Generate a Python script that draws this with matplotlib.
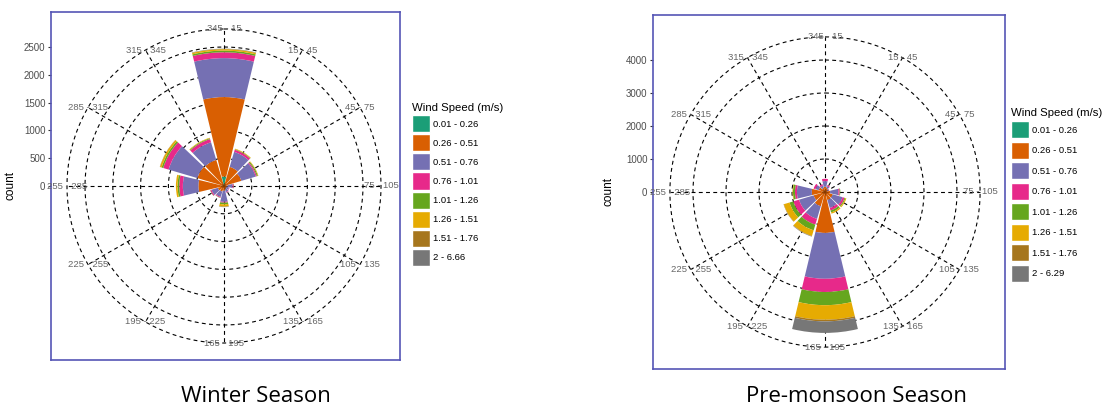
import numpy as np
import matplotlib.pyplot as plt
from matplotlib.patches import Patch

W, H = 1110, 408

# sector centres (deg, clockwise from north) and their labels
directions = [0, 30, 60, 90, 120, 150, 180, 210, 240, 270, 300, 330]
dir_labels = ['345 - 15', '15 - 45', '45 - 75', '75 - 105', '105 - 135', '135 - 165',
              '165 - 195', '195 - 225', '225 - 255', '255 - 285', '285 - 315', '315 - 345']

colors = ['#1B9E77', '#D95F02', '#7570B3', '#E7298A', '#66A61E', '#E6AB02', '#A6761D', '#777777']
winter_bins = ['0.01 - 0.26', '0.26 - 0.51', '0.51 - 0.76', '0.76 - 1.01',
               '1.01 - 1.26', '1.26 - 1.51', '1.51 - 1.76', '2 - 6.66']
premon_bins = ['0.01 - 0.26', '0.26 - 0.51', '0.51 - 0.76', '0.76 - 1.01',
               '1.01 - 1.26', '1.26 - 1.51', '1.51 - 1.76', '2 - 6.29']

# counts per speed bin, one value per sector (order of `directions`)
w_s1 = [170, 10, 5, 5, 5, 5, 5, 5, 5, 10, 10, 10]
w_s2 = [1430, 350, 320, 60, 40, 50, 80, 100, 110, 450, 490, 480]
w_s3 = [700, 280, 270, 90, 50, 60, 200, 100, 120, 280, 540, 330]
w_s4 = [105, 40, 20, 20, 10, 10, 15, 15, 20, 65, 100, 60]
w_s5 = [30, 10, 20, 5, 0, 0, 30, 5, 5, 30, 30, 15]
w_s6 = [25, 10, 10, 0, 0, 0, 40, 0, 0, 30, 30, 10]
w_s7 = [5, 0, 0, 0, 0, 0, 5, 0, 0, 0, 5, 0]
w_s8 = [5, 0, 0, 0, 0, 0, 5, 0, 0, 0, 0, 0]

p_s1 = [10, 5, 5, 5, 5, 5, 10, 5, 5, 5, 5, 5]
p_s2 = [150, 120, 80, 150, 240, 250, 1230, 445, 355, 395, 195, 120]
p_s3 = [170, 60, 40, 250, 310, 250, 1390, 400, 460, 450, 100, 80]
p_s4 = [70, 30, 10, 40, 60, 80, 400, 180, 180, 60, 60, 40]
p_s5 = [0, 0, 0, 20, 30, 60, 400, 180, 120, 60, 0, 0]
p_s6 = [0, 0, 0, 0, 30, 40, 440, 180, 180, 15, 0, 0]
p_s7 = [0, 0, 0, 0, 0, 0, 50, 10, 10, 0, 0, 0]
p_s8 = [0, 0, 0, 0, 0, 0, 350, 10, 0, 0, 0, 0]

winter = [w_s1, w_s2, w_s3, w_s4, w_s5, w_s6, w_s7, w_s8]
premon = [p_s1, p_s2, p_s3, p_s4, p_s5, p_s6, p_s7, p_s8]

winter_ticks = [0, 500, 1000, 1500, 2000, 2500]
premon_ticks = [0, 1000, 2000, 3000, 4000]

fig = plt.figure(figsize=(W / 100, H / 100), dpi=100)
plt.rcParams['font.family'] = ['Liberation Sans', 'DejaVu Sans']

DASH = (0, (3.5, 3))


def rose(box, cx, px_per_count, outer, data, ticks, bins, leg_xy, leg_gap, label_x):
    x0, y0, x1, y1 = box
    half = (y1 - y0) / 2
    cy = (y0 + y1) / 2
    ymax = half / px_per_count

    # outer blue frame carrying the count axis
    bax = fig.add_axes([x0 / W, 1 - y1 / H, (x1 - x0) / W, (y1 - y0) / H])
    bax.set_xlim(0, 1)
    bax.set_ylim(-ymax, ymax)
    bax.set_xticks([])
    bax.set_yticks(ticks)
    bax.set_yticklabels([str(t) for t in ticks])
    bax.tick_params(axis='y', length=2.5, width=0.8, color='#333333',
                    labelcolor='#4D4D4D', labelsize=7, pad=1.5)
    for s in bax.spines.values():
        s.set_color('#5555B5')
        s.set_linewidth(1.2)
    bax.set_ylabel('count', fontsize=8.5)
    bax.yaxis.set_label_coords((label_x - x0) / (x1 - x0), 0.5)

    pax = fig.add_axes([(cx - half) / W, 1 - (cy + half) / H, 2 * half / W, 2 * half / H],
                       projection='polar')
    pax.set_theta_zero_location('N')
    pax.set_theta_direction(-1)
    pax.set_ylim(0, ymax)
    pax.patch.set_alpha(0)
    pax.spines['polar'].set_visible(False)
    pax.grid(False)
    pax.set_xticks([])
    pax.set_yticks([])

    tt = np.linspace(0, 2 * np.pi, 400)
    for r in ticks[1:] + [outer]:
        pax.plot(tt, np.full_like(tt, r), color='black', lw=0.8, ls=DASH, zorder=1)
    theta = np.deg2rad(directions)
    for t in theta:
        pax.plot([t, t], [0, outer], color='black', lw=0.8, ls=DASH, zorder=1)

    bottom = np.zeros(len(directions))
    for vals, c in zip(data, colors):
        vals = np.array(vals, dtype=float)
        pax.bar(theta, vals, width=np.deg2rad(27), bottom=bottom, color=c,
                linewidth=0, zorder=2)
        bottom += vals

    for t, lab in zip(theta, dir_labels):
        pax.text(t, outer, lab, ha='center', va='center', fontsize=6.8,
                 color='#666666', zorder=3)

    handles = [Patch(facecolor=c, edgecolor='white') for c in colors]
    leg = fig.legend(handles, bins, title='Wind Speed (m/s)', loc='upper left',
                     bbox_to_anchor=(leg_xy[0] / W, 1 - leg_xy[1] / H),
                     frameon=False, fontsize=6.8, title_fontsize=8.2,
                     handlelength=1.9, handleheight=2.4, handletextpad=0.3,
                     labelspacing=leg_gap, borderpad=0, borderaxespad=0)
    leg._legend_box.align = 'left'


rose((51, 12, 400, 360), 224, 27.8 / 500, 2824, winter, winter_ticks, winter_bins,
     (412, 103), 0.22, 17)
rose((653, 15, 1005, 369), 825, 33.0 / 1000, 4700, premon, premon_ticks, premon_bins,
     (1011, 108), 0.36, 615)

fig.text(256 / W, 1 - 397 / H, 'Winter Season', ha='center', va='center',
         fontsize=16, family=['Open Sans', 'DejaVu Sans'])
fig.text(856 / W, 1 - 397 / H, 'Pre-monsoon Season', ha='center', va='center',
         fontsize=16, family=['Open Sans', 'DejaVu Sans'])

fig.savefig('out.png', dpi=100, facecolor='white')
